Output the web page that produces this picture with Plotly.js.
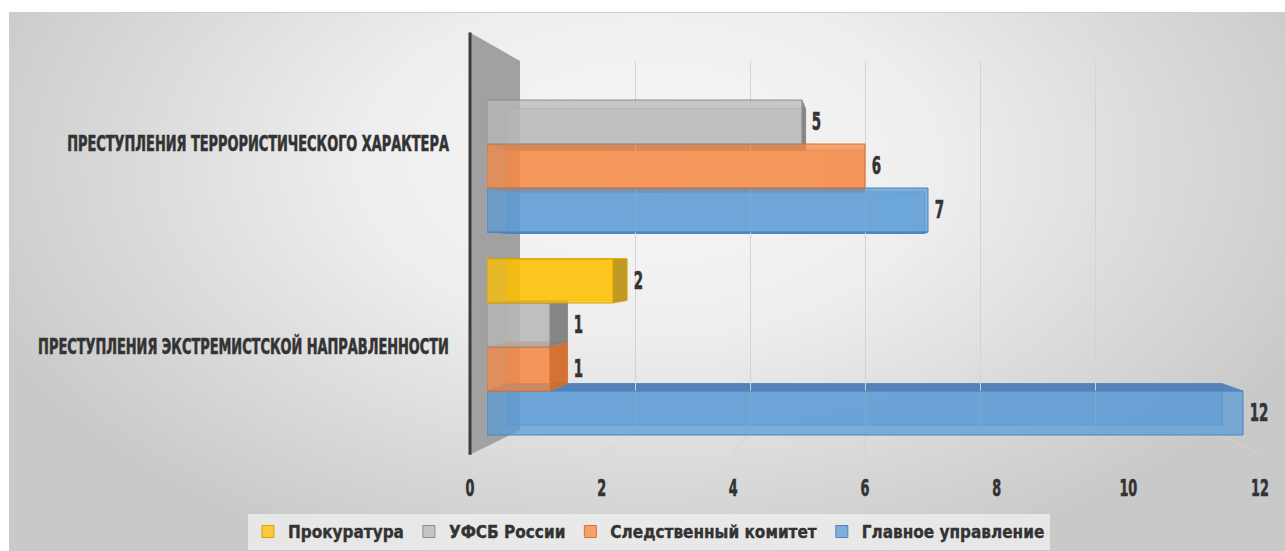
<!DOCTYPE html>
<html><head><meta charset="utf-8">
<script src="https://cdn.plot.ly/plotly-3.0.1.min.js"></script>
<style>
html,body{margin:0;padding:0;background:#fff;width:1285px;height:551px;overflow:hidden}
#bg{position:absolute;left:9px;top:12px;width:1276px;height:539px;border-top:1px solid #cfcfcf;
background:radial-gradient(ellipse 720px 430px at 640px 150px,#f7f7f7 0%,#eeeeee 40%,#dadada 72%,#c9c9c9 100%);}
#chart{position:absolute;left:0;top:0;width:1285px;height:551px}
</style></head><body><div id="bg"></div><div id="chart"></div>
<script>
// ---- data ----
const categories = ['ПРЕСТУПЛЕНИЯ ЭКСТРЕМИСТСКОЙ НАПРАВЛЕННОСТИ', 'ПРЕСТУПЛЕНИЯ ТЕРРОРИСТИЧЕСКОГО ХАРАКТЕРА'];
const seriesNames = ['Главное управление', 'Следственный комитет', 'УФСБ России', 'Прокуратура'];
const glavnoeUpravlenie = [12, 7];
const sledstvennyKomitet = [1, 6];
const ufsbRossii = [1, 5];
const prokuratura = [2, null];
const xTickVals = [0, 2, 4, 6, 8, 10, 12];
const xTickText = ['0', '2', '4', '6', '8', '10', '12'];

// ---- styles ----
const W = 1285, H = 551;
const FONT = '"Liberation Sans Narrow","DejaVu Sans Condensed","DejaVu Sans",sans-serif';
const TXT = '#333333';
const faceColors = ['#5b9bd5', '#f48a45', '#b8b8b8', '#ffc000'];
const edgeColors = ['#4a84c4', '#e0702a', '#8c8c8c', '#d9a400'];
const sideColors = ['#4f7db3', '#cf6d2c', '#7f7f7f', '#b8951e'];
const VX = 867, VY = 258, S_BAR = 0.945, S_WALL = 0.874;
const BARGAP = 0.133;
const CAT_LABEL_WIDTH = 382;
const TICK_K = 0.62, LABEL_K = 0.62, LABEL_SIZE = 24;

function rgba(hex, a) {
  const n = parseInt(hex.slice(1), 16);
  return 'rgba(' + (n >> 16 & 255) + ',' + (n >> 8 & 255) + ',' + (n & 255) + ',' + a + ')';
}
const seriesValues = [glavnoeUpravlenie, sledstvennyKomitet, ufsbRossii, prokuratura];
const fnt = (size) => ({family: FONT, size: size, color: TXT, weight: 'bold'});

const traces = seriesValues.map((vals, k) => ({
  type: 'bar', orientation: 'h', name: seriesNames[k], x: vals, y: categories,
  xaxis: 'x2', yaxis: 'y2',
  marker: {color: rgba(faceColors[k], 0.75), line: {color: edgeColors[k], width: 1}},
  hoverinfo: 'x+name'
}));
traces.push({type: 'scatter', x: [0], y: [0], xaxis: 'x', yaxis: 'y', mode: 'markers',
  marker: {opacity: 0}, showlegend: false, hoverinfo: 'skip'});
traces.push({type: 'scatter', x: [0], y: [0], xaxis: 'x3', yaxis: 'y3', mode: 'markers',
  marker: {opacity: 0}, showlegend: false, hoverinfo: 'skip'});

const py = v => 1 - v / H;
const layout = {
  width: W, height: H, margin: {l: 0, r: 0, t: 0, b: 0},
  paper_bgcolor: 'rgba(0,0,0,0)', plot_bgcolor: 'rgba(0,0,0,0)',
  barmode: 'group', bargap: BARGAP, bargroupgap: 0,
  font: fnt(16), showlegend: true,
  xaxis: {domain: [520 / W, 1210.5 / W], range: [0, 12], tickvals: xTickVals, showticklabels: false,
    ticks: '', showgrid: true, gridcolor: '#d3d3d3', gridwidth: 1, zeroline: false, showline: false, anchor: 'y'},
  yaxis: {domain: [py(430), py(61)], range: [0, 1], showticklabels: false, ticks: '', showgrid: false,
    zeroline: false, showline: false, anchor: 'x'},
  xaxis2: {domain: [487 / W, 1274.5 / W], range: [0, 12.5], visible: false, anchor: 'y2'},
  yaxis2: {domain: [py(448.5), py(42.5)], range: [-0.5, 1.5], type: 'category',
    categoryorder: 'array', categoryarray: categories, ticks: 'outside', ticklen: 33,
    tickcolor: 'rgba(0,0,0,0)', showgrid: false, zeroline: false, showline: false,
    tickfont: fnt(20.5), anchor: 'x2'},
  xaxis3: {domain: [470 / W, 1260 / W], range: [0, 12], tickvals: xTickVals, ticktext: xTickText,
    showgrid: false, zeroline: false, showline: false, ticks: '', tickfont: fnt(23), anchor: 'y3'},
  yaxis3: {domain: [py(472), py(468)], visible: false, anchor: 'x3'},
  legend: {orientation: 'h', traceorder: 'reversed', x: 0.505, xanchor: 'center', y: py(532), yanchor: 'middle',
    bgcolor: 'rgba(240,240,240,0.75)', font: fnt(17)}
};

// horizontally condense text around its anchor point (Impact-like lettering of the original)
function condense(root, sel, k, stroke) {
  Array.from(root.querySelectorAll(sel)).forEach(t => {
    if (k !== 1) {
      const x = parseFloat(t.getAttribute('x')) || 0;
      const tr = t.getAttribute('transform') || '';
      t.setAttribute('transform', tr + ' translate(' + x + ',0) scale(' + k.toFixed(4) + ',1) translate(' + (-x) + ',0)');
    }
    t.style.stroke = TXT;
    t.style.strokeWidth = stroke + 'px';
  });
}

Plotly.newPlot('chart', traces, layout, {staticPlot: true}).then(gd => {
  const fl = gd._fullLayout;
  const xa = fl.xaxis, ya = fl.yaxis, xa2 = fl.xaxis2, ya2 = fl.yaxis2, xa3 = fl.xaxis3;
  const P = (ax, v) => ax._offset + ax.l2p(v);
  const proj = (x, y, s) => [VX + (x - VX) * s, VY + (y - VY) * s];
  const poly = pts => 'M' + pts.map(p => (p[0] / W).toFixed(5) + ',' + (1 - p[1] / H).toFixed(5)).join('L') + 'Z';
  const shp = (path, fill, line) => ({type: 'path', xref: 'paper', yref: 'paper', layer: 'below',
    path: path, fillcolor: fill, line: line || {width: 0}});

  const shapes = [];
  const backTop = P(ya, 1), backBot = P(ya, 0);
  const frontTop = VY + (backTop - VY) / S_WALL, frontBot = VY + (backBot - VY) / S_WALL;
  const wx0 = P(xa3, 0), wx1 = P(xa, 0);
  shapes.push(shp(poly([[wx0, frontTop], [wx1, backTop], [wx1, backBot], [wx0, frontBot]]), '#a1a1a1'));
  xTickVals.forEach(v => {
    if (v === 0) return;
    shapes.push({type: 'line', xref: 'paper', yref: 'paper', layer: 'below',
      x0: P(xa, v) / W, y0: 1 - backBot / H, x1: P(xa3, v) / W, y1: 1 - frontBot / H,
      line: {color: '#d3d3d3', width: 1}});
  });

  const N = seriesValues.length, w = (1 - BARGAP) / N;
  const backs = [], sides = [], labels = [];
  const digitW = 0.696 * LABEL_SIZE * LABEL_K;
  seriesValues.forEach((vals, k) => vals.forEach((v, c) => {
    if (v == null) return;
    const center = c - (1 - BARGAP) / 2 + (k + 0.5) * w;
    const xL = P(xa2, 0), xR = P(xa2, v), yT = P(ya2, center + w / 2), yB = P(ya2, center - w / 2);
    const [xL2, yT2] = proj(xL, yT, S_BAR), [xR2, yB2] = proj(xR, yB, S_BAR);
    backs.push(shp(poly([[xL2, yT2], [xR2, yT2], [xR2, yB2], [xL2, yB2]]), rgba(faceColors[k], 0.5),
      {color: rgba(edgeColors[k], 0.7), width: 1}));
    const sc = rgba(sideColors[k], 0.92), sl = {color: rgba(edgeColors[k], 0.8), width: 1};
    if (xR < VX) sides.push(shp(poly([[xR, yT], [xR2, yT2], [xR2, yB2], [xR, yB]]), sc, sl));
    if (yT > VY) sides.push(shp(poly([[xL, yT], [xR, yT], [xR2, yT2], [xL2, yT2]]), sc, sl));
    if (yB < VY) sides.push(shp(poly([[xL, yB], [xR, yB], [xR2, yB2], [xL2, yB2]]), sc, sl));
    const txt = String(v);
    const cx = Math.max(xR, xR2) + 6 + txt.length * digitW / 2;
    labels.push({xref: 'paper', yref: 'paper', x: cx / W, y: 1 - (yT + yB) / 2 / H,
      text: txt, showarrow: false, xanchor: 'center', yanchor: 'middle', font: fnt(LABEL_SIZE),
      borderpad: 0});
  }));
  shapes.push({type: 'line', xref: 'paper', yref: 'paper', layer: 'below',
    x0: wx0 / W, x1: wx0 / W, y0: 1 - frontTop / H, y1: 1 - frontBot / H, line: {color: '#3c3c3c', width: 3}});
  return Plotly.relayout(gd, {shapes: shapes.concat(backs, sides), annotations: labels}).then(() => {
    let ref = 0;
    Array.from(gd.querySelectorAll('.y2tick text')).forEach(t => {
      if (t.textContent === categories[1]) ref = t.getComputedTextLength();
    });
    if (ref > 0) condense(gd, '.y2tick text', CAT_LABEL_WIDTH / ref, 0.6);
    condense(gd, '.x3tick text', TICK_K, 0.6);
    condense(gd, '.annotation-text', LABEL_K, 0.6);
    condense(gd, '.legendtext', 1, 0.35);
  });
});
</script></body></html>
